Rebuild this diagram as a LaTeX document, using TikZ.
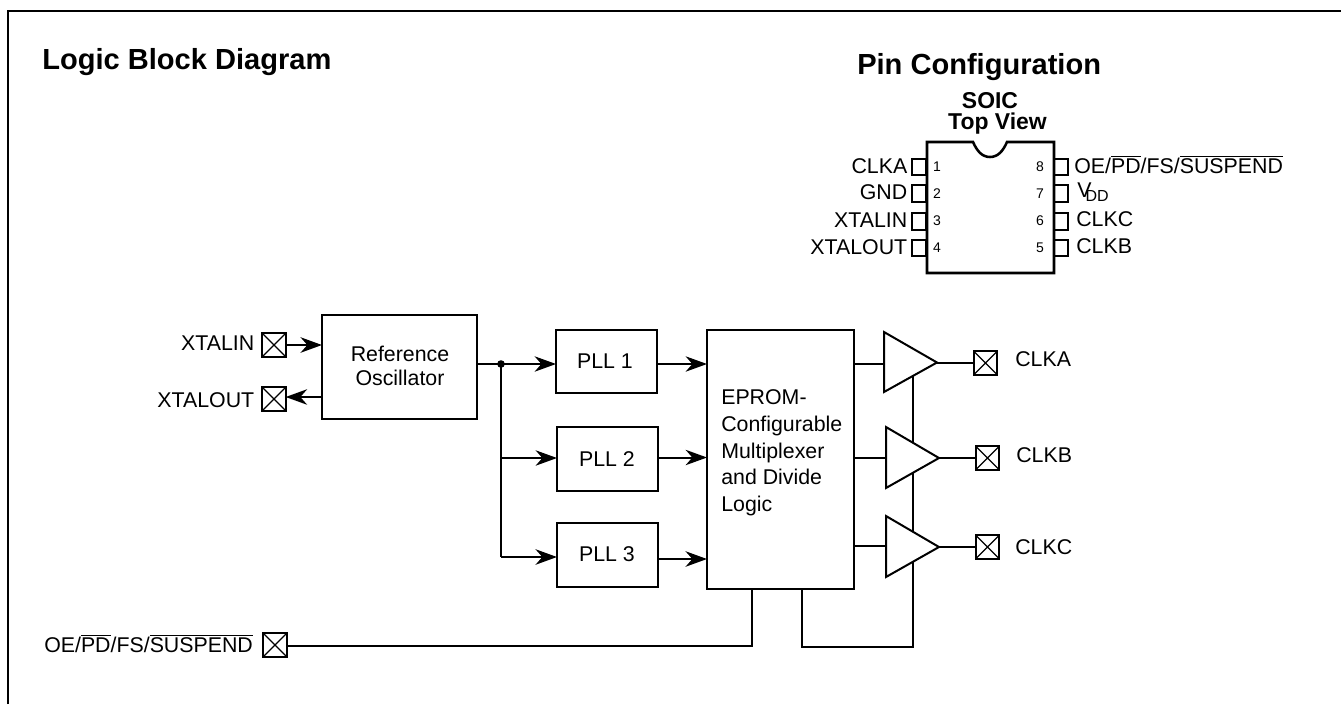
\documentclass[tikz,border=0pt]{standalone}
\usepackage{fontspec}
\setmainfont{Liberation Sans}
\usetikzlibrary{arrows.meta}
\newcommand{\ovl}[1]{$\overline{\mbox{#1}}$}
\tikzset{
  x=0.75pt,y=-0.75pt,
  wire/.style={line width=1.5pt},
  arr/.style={line width=1.5pt,-{Stealth[length=16pt,width=11.5pt,inset=5pt]}},
  thickarr/.style={arr,line width=2.2pt},
  blockbox/.style={draw,line width=1.5pt,anchor=north west,inner sep=0pt,outer sep=0pt},
  amp/.style={draw,fill=white,line width=1.5pt,line join=miter},
  padbox/.style={draw,line width=1.5pt,minimum size=17.5pt,inner sep=0pt,outer sep=0pt,path picture={\draw[line width=1pt] (path picture bounding box.north west)--(path picture bounding box.south east) (path picture bounding box.north east)--(path picture bounding box.south west);}},
  lab/.style={font=\fontsize{16}{18}\selectfont,inner sep=0pt},
  title/.style={font=\bfseries\fontsize{21.8}{24}\selectfont,inner sep=0pt,anchor=base west},
  sub/.style={font=\bfseries\fontsize{17.2}{18}\selectfont,inner sep=0pt,anchor=base},
  pinbox/.style={draw,line width=1.3pt,minimum width=11pt,minimum height=12.5pt,inner sep=0pt,outer sep=0pt},
  pinno/.style={font=\fontsize{10.5}{12}\selectfont,inner sep=0pt},
}
\begin{document}
\begin{tikzpicture}
\useasboundingbox (0,0) rectangle (1341,704);
% frame
\coordinate (fa) at (8,704);
\coordinate (fb) at (8,11);
\coordinate (fc) at (1341,11);
\draw[line width=1.5pt] (fa)--(fb)--(fc);
\node[title] (t1) at (42,69) {Logic Block Diagram};
\node[title] (t2) at (857,74) {Pin Configuration};
% pin diagram
\node[sub] (soic) at (990,108) {SOIC};
\node[sub] (top) at (997.5,129) {Top View};
\foreach \n/\y/\t in {1/167/CLKA,2/193.5/GND,3/221.5/XTALIN,4/248/XTALOUT}{
  \node[pinbox] (lp\n) at (919,\y) {};
  \node[lab,anchor=base east] (ll\n) at (907.5,\y+6) {\t};
}
\foreach \n/\y in {8/167,7/193.5,6/221.5,5/248}{
  \node[pinbox] (rp\n) at (1061,\y) {};
}
\draw[line width=1.9pt,fill=white] (927,142) -- (973,142) .. controls (977,151) and (982,157) .. (990,157) .. controls (998,157) and (1003,151) .. (1007,142) -- (1054,142) -- (1054,273) -- (927,273) -- cycle;
\foreach \n/\y in {1/167,2/194,3/221,4/248}{
  \node[pinno,anchor=center] (ln\n) at (937,\y) {\n};
}
\foreach \n/\y in {8/167,7/194,6/221,5/248}{
  \node[pinno,anchor=center] (rn\n) at (1040,\y) {\n};
}
\node[lab,anchor=base west] (o8) at (1074,173) {OE/\ovl{PD}/FS/\ovl{SUSPEND}};
\node[lab,anchor=base west] (o7) at (1077,197) {V\kern-4.5pt\raisebox{-3pt}{\fontsize{12}{14}\selectfont DD}};
\node[lab,anchor=base west] (o6) at (1076,226) {CLKC};
\node[lab,anchor=base west] (o5) at (1076,253) {CLKB};
% blocks
\node[blockbox,minimum width=116.25pt,minimum height=78pt] (ref) at (322,315) {};
\node[lab,align=center,anchor=north,font=\fontsize{16}{18}\selectfont] at (400,346) {Reference\\Oscillator};
\node[blockbox,minimum width=76pt,minimum height=47.5pt] (pll1) at (556,330) {};
\node[lab,anchor=base] at (605,368) {PLL 1};
\node[blockbox,minimum width=76pt,minimum height=48pt] (pll2) at (557,427) {};
\node[lab,anchor=base] at (607,466) {PLL 2};
\node[blockbox,minimum width=76pt,minimum height=48pt] (pll3) at (557,523) {};
\node[lab,anchor=base] at (607,561) {PLL 3};
\node[blockbox,minimum width=110.25pt,minimum height=194.25pt] (mux) at (707,330) {};
\node[lab,anchor=north west,align=left,font=\fontsize{16}{20}\selectfont] at (721,389.5) {EPROM-\\Configurable\\Multiplexer\\and Divide\\Logic};
% pads
\node[padbox] (pin) at (274,345) {};
\node[padbox] (pout) at (274,399) {};
\node[padbox] (pa) at (985.5,363) {};
\node[padbox] (pb) at (987.5,458) {};
\node[padbox] (pc) at (987.5,547) {};
\node[padbox] (poe) at (275,645) {};
\node[lab,anchor=base east] at (254.5,350) {XTALIN};
\node[lab,anchor=base east] at (254.5,407) {XTALOUT};
\node[lab,anchor=base west] at (1015,366) {CLKA};
\node[lab,anchor=base west] at (1016,462) {CLKB};
\node[lab,anchor=base west] at (1015,554) {CLKC};
\node[lab,anchor=base west] at (44,652) {OE/\ovl{PD}/FS/\ovl{SUSPEND}};
% wires
\coordinate (j) at (501,364);
\coordinate (j2) at (501,458);
\coordinate (j3) at (501,557);
\draw[thickarr] (pin.east|-0,345) -- (322,345);
\draw[thickarr] (322,397) -- (pout.east|-0,397);
\draw[wire] (477,364) -- (j);
\draw[arr] (j) -- (556,364);
\draw[wire] (j) -- (j3);
\draw[arr] (j2) -- (557,458);
\draw[thickarr] (j3) -- (557,557);
\fill (j) circle (3.8);
\draw[arr] (657,364) -- (707,364);
\draw[arr] (658,457.5) -- (707,457.5);
\draw[thickarr] (658,559) -- (707,559);
\coordinate (oeb) at (752,589);
\coordinate (oec) at (752,646);
\draw[wire] (poe.east|-0,646) -- (oec) -- (oeb);
\coordinate (lb) at (802,589);
\coordinate (lc) at (802,646.5);
\coordinate (ld) at (913,646.5);
\coordinate (le) at (913,370);
\draw[wire] (lb) -- (lc) -- (ld) -- (le);
\draw[wire] (854,363.5) -- (884,363.5);
\draw[wire] (854,457.5) -- (886,457.5);
\draw[wire] (854,546) -- (886,546);
\draw[amp] (884,332) -- (937,362.5) -- (884,392) -- cycle;
\draw[amp] (886,427) -- (939,458) -- (886,488) -- cycle;
\draw[amp] (886,516) -- (939,547) -- (886,577) -- cycle;
\draw[wire] (937,363) -- (pa.west);
\draw[wire] (939,458) -- (pb.west);
\draw[wire] (939,547) -- (pc.west);
\end{tikzpicture}
\end{document}
